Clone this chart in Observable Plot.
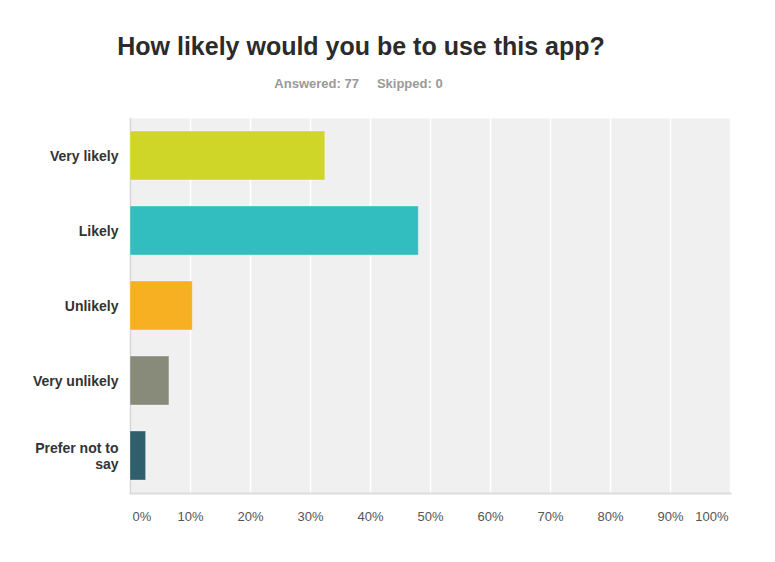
<!DOCTYPE html>
<html><head><meta charset="utf-8">
<script src="https://cdn.jsdelivr.net/npm/d3@7"></script>
<script src="https://cdn.jsdelivr.net/npm/@observablehq/plot@0.6"></script>
<style>
body{margin:0;background:#fff;font-family:"Liberation Sans",Arial,sans-serif;}
#wrap{position:relative;width:775px;height:562px;}
#title{position:absolute;left:0;top:32px;width:722px;text-align:center;font-size:25px;font-weight:bold;color:#2b2b2b;}
#sub{position:absolute;left:0;top:76px;width:717px;text-align:center;font-size:13px;font-weight:bold;color:#999;}
#sub span+span{margin-left:18px;}
#chart{position:absolute;left:0;top:100px;}
</style></head><body>
<div id="wrap">
<div id="title">How likely would you be to use this app?</div>
<div id="sub"><span>Answered: 77</span><span>Skipped: 0</span></div>
<div id="chart"></div>
</div>
<script>
const categories = ["Very likely","Likely","Unlikely","Very unlikely","Prefer not to say"];
const percents = [32.47, 48.05, 10.39, 6.49, 2.60];
const colors = ["#cfd628","#32bdbe","#f7b022","#888b7a","#2e5f6b"];
const tickValues = [0,10,20,30,40,50,60,70,80,90,100];
const tickLabels = tickValues.map(v => v + "%");

const data = categories.map((c,i)=>({category:c, pct:percents[i], color:colors[i]}));
const midTicks = tickValues.slice(1,-1);

const chart = Plot.plot({
  width:775, height:462,
  marginLeft:130, marginRight:45, marginTop:18, marginBottom:69,
  style:{fontFamily:"'Liberation Sans', Arial, sans-serif", background:"transparent"},
  x:{domain:[0,100], label:null},
  y:{domain:categories, paddingInner:0.35, paddingOuter:0.175, label:null},
  marks:[
    Plot.frame({fill:"#f0f0f0", stroke:null}),
    Plot.gridX(tickValues, {stroke:"#fff", strokeOpacity:1, strokeWidth:1.5}),
    Plot.ruleX([0], {stroke:"#d4d4d4", strokeWidth:1.5}),
    Plot.frame({anchor:"bottom", stroke:"#dcdcdc", strokeWidth:2}),
    Plot.barX(data, {y:"category", x:"pct", fill:"color", stroke:"#fff", strokeOpacity:0.35, strokeWidth:1}),
    Plot.axisY({tickSize:0, tickPadding:12, fontSize:14, fontWeight:"bold", fill:"#333", label:null,
      tickFormat: d => d === "Prefer not to say" ? "Prefer not to\nsay" : d, lineHeight:1.15}),
    Plot.axisX(midTicks, {tickSize:0, tickPadding:18, fontSize:13, fill:"#555", label:null, tickFormat:d=>d+"%"}),
    Plot.text([tickValues[0]], {x:d=>d, frameAnchor:"bottom", dy:27, textAnchor:"start", dx:2, text:()=>tickLabels[0], fontSize:13, fill:"#555"}),
    Plot.text([tickValues[10]], {x:d=>d, frameAnchor:"bottom", dy:27, textAnchor:"end", dx:-2, text:()=>tickLabels[10], fontSize:13, fill:"#555"})
  ]
});
document.getElementById("chart").appendChild(chart);
</script>
</body></html>
